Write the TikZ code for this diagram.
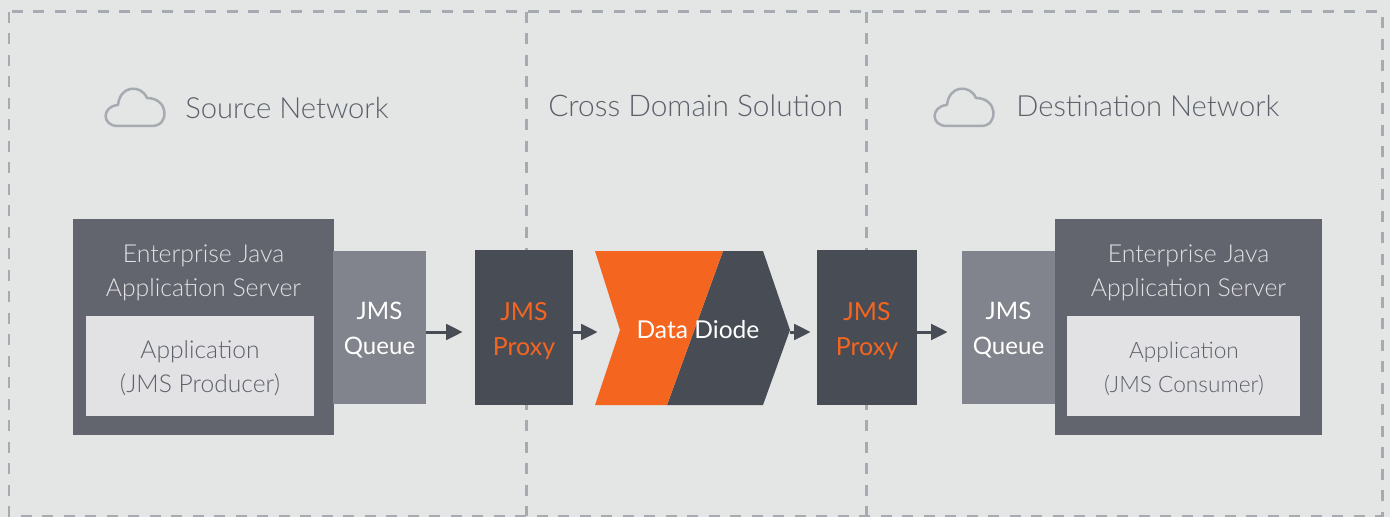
\documentclass[tikz,border=0pt]{standalone}
\usepackage{fontspec}
\setmainfont{Lato}
\newfontfamily\lightfont{Lato Light}
\usetikzlibrary{arrows.meta}
\definecolor{panelbg}{HTML}{E4E6E5}
\definecolor{dashgrey}{HTML}{A5ABB0}
\definecolor{titletext}{HTML}{5C606A}
\definecolor{servergrey}{HTML}{62656E}
\definecolor{queuegrey}{HTML}{81848C}
\definecolor{proxydark}{HTML}{484C55}
\definecolor{innerlight}{HTML}{E2E2E4}
\definecolor{diodeorange}{HTML}{F46520}
\tikzset{
  title/.style={anchor=west,inner sep=0pt,text=titletext,font=\lightfont\fontsize{16.6}{20}\selectfont},
  serverbox/.style={fill=servergrey,inner sep=0pt},
  innerbox/.style={fill=innerlight,inner sep=0pt},
  apptext/.style={inner sep=0pt,align=center,text=titletext,font=\lightfont\fontsize{14}{19.3}\selectfont},
  servertext/.style={inner sep=0pt,align=center,text=innerlight,font=\lightfont\fontsize{14.1}{19.3}\selectfont},
  queuebox/.style={fill=queuegrey,minimum width=1.86cm,minimum height=3.06cm,inner sep=0pt},
  queuetext/.style={inner sep=0pt,align=center,text=white,font=\fontsize{13.7}{19.5}\selectfont},
  proxybox/.style={fill=proxydark,minimum height=3.1cm,inner sep=0pt},
  proxytext/.style={inner sep=0pt,align=center,text=diodeorange,font=\fontsize{14.2}{20}\selectfont},
  zoneline/.style={dashgrey,line width=0.06cm,dash pattern=on 0.22cm off 0.21cm},
  flow/.style={draw=proxydark,line width=0.06cm,-{Triangle[length=0.33cm,width=0.31cm]}},
  cloudicon/.pic={
    \draw[dashgrey,line width=0.05cm,line join=round]
      (118,126) -- (152,126) .. controls (170,126) and (169,98) .. (147,98)
      .. controls (141,84) and (120,85) .. (118,105)
      .. controls (102,106) and (101,126) .. (118,126) -- cycle;
  },
}
\begin{document}
\begin{tikzpicture}[x=0.02cm,y=-0.02cm]
\useasboundingbox (0,0) rectangle (1390,517);
\fill[panelbg] (0,0) rectangle (1390,517);
%dashed zones
\draw[zoneline] (9,12) rectangle (1382,516);
\draw[zoneline] (526.5,12) -- (526.5,516);
\draw[zoneline] (866.5,12) -- (866.5,516);
%titles
\pic at (0,0) {cloudicon};
\pic at (829,0) {cloudicon};
\node[title] (sourcetitle) at (185,108) {Source Network};
\node[title,font=\lightfont\fontsize{17}{20}\selectfont] (crosstitle) at (548,106) {Cross Domain Solution};
\node[title] (desttitle) at (1016,106) {Destination Network};
%source side
\node[serverbox,minimum width=5.22cm,minimum height=4.32cm] (serverA) at (203.5,327) {};
\node[servertext] (serverAtext) at (203.5,273) {Enterprise Java\\Application Server};
\node[innerbox,minimum width=4.56cm,minimum height=2cm] (appA) at (200,366) {};
\node[apptext] (appAtext) at (200,368.5) {Application\\(JMS Producer)};
\node[queuebox] (queueA) at (379.5,327.5) {};
\node[queuetext] (queueAtext) at (379.5,330) {JMS\\Queue};
\node[proxybox,minimum width=1.96cm] (proxyA) at (524,327.5) {};
\node[proxytext] (proxyAtext) at (524,331) {JMS\\Proxy};
%diode
\fill[proxydark] (723,251) -- (763,251) -- (790,330) -- (763,405) -- (667,405) -- cycle;
\fill[diodeorange] (595,251) -- (723,251) -- (667,405) -- (595,405) -- (620,330) -- cycle;
\node[minimum width=3.9cm,minimum height=3.08cm,inner sep=0pt] (diode) at (692.5,328) {};
\node[inner sep=0pt,text=white,font=\fontsize{14}{19.5}\selectfont] (diodetext) at (698,329.5) {Data Diode};
%destination side
\node[proxybox,minimum width=2cm] (proxyB) at (867,327.5) {};
\node[proxytext] (proxyBtext) at (867,331) {JMS\\Proxy};
\node[queuebox] (queueB) at (1008.5,327.5) {};
\node[queuetext] (queueBtext) at (1008.5,330) {JMS\\Queue};
\node[serverbox,minimum width=5.34cm,minimum height=4.32cm] (serverB) at (1188.5,327) {};
\node[servertext] (serverBtext) at (1188.5,273) {Enterprise Java\\Application Server};
\node[innerbox,minimum width=4.66cm,minimum height=2cm] (appB) at (1183.5,366) {};
\node[apptext,font=\lightfont\fontsize{12.9}{19.3}\selectfont] (appBtext) at (1184,368.5) {Application\\(JMS Consumer)};
%arrows
\coordinate (flowline) at (0,332);
\draw[flow,shorten >=0.24cm] (queueA.east |- flowline) -- (proxyA.west |- flowline);
\draw[flow,shorten >=-0.06cm] (proxyA.east |- flowline) -- (diode.west |- flowline);
\draw[flow,shorten >=0.12cm] (diode.east |- flowline) -- (proxyB.west |- flowline);
\draw[flow,shorten >=0.28cm] (proxyB.east |- flowline) -- (queueB.west |- flowline);
\end{tikzpicture}
\end{document}
